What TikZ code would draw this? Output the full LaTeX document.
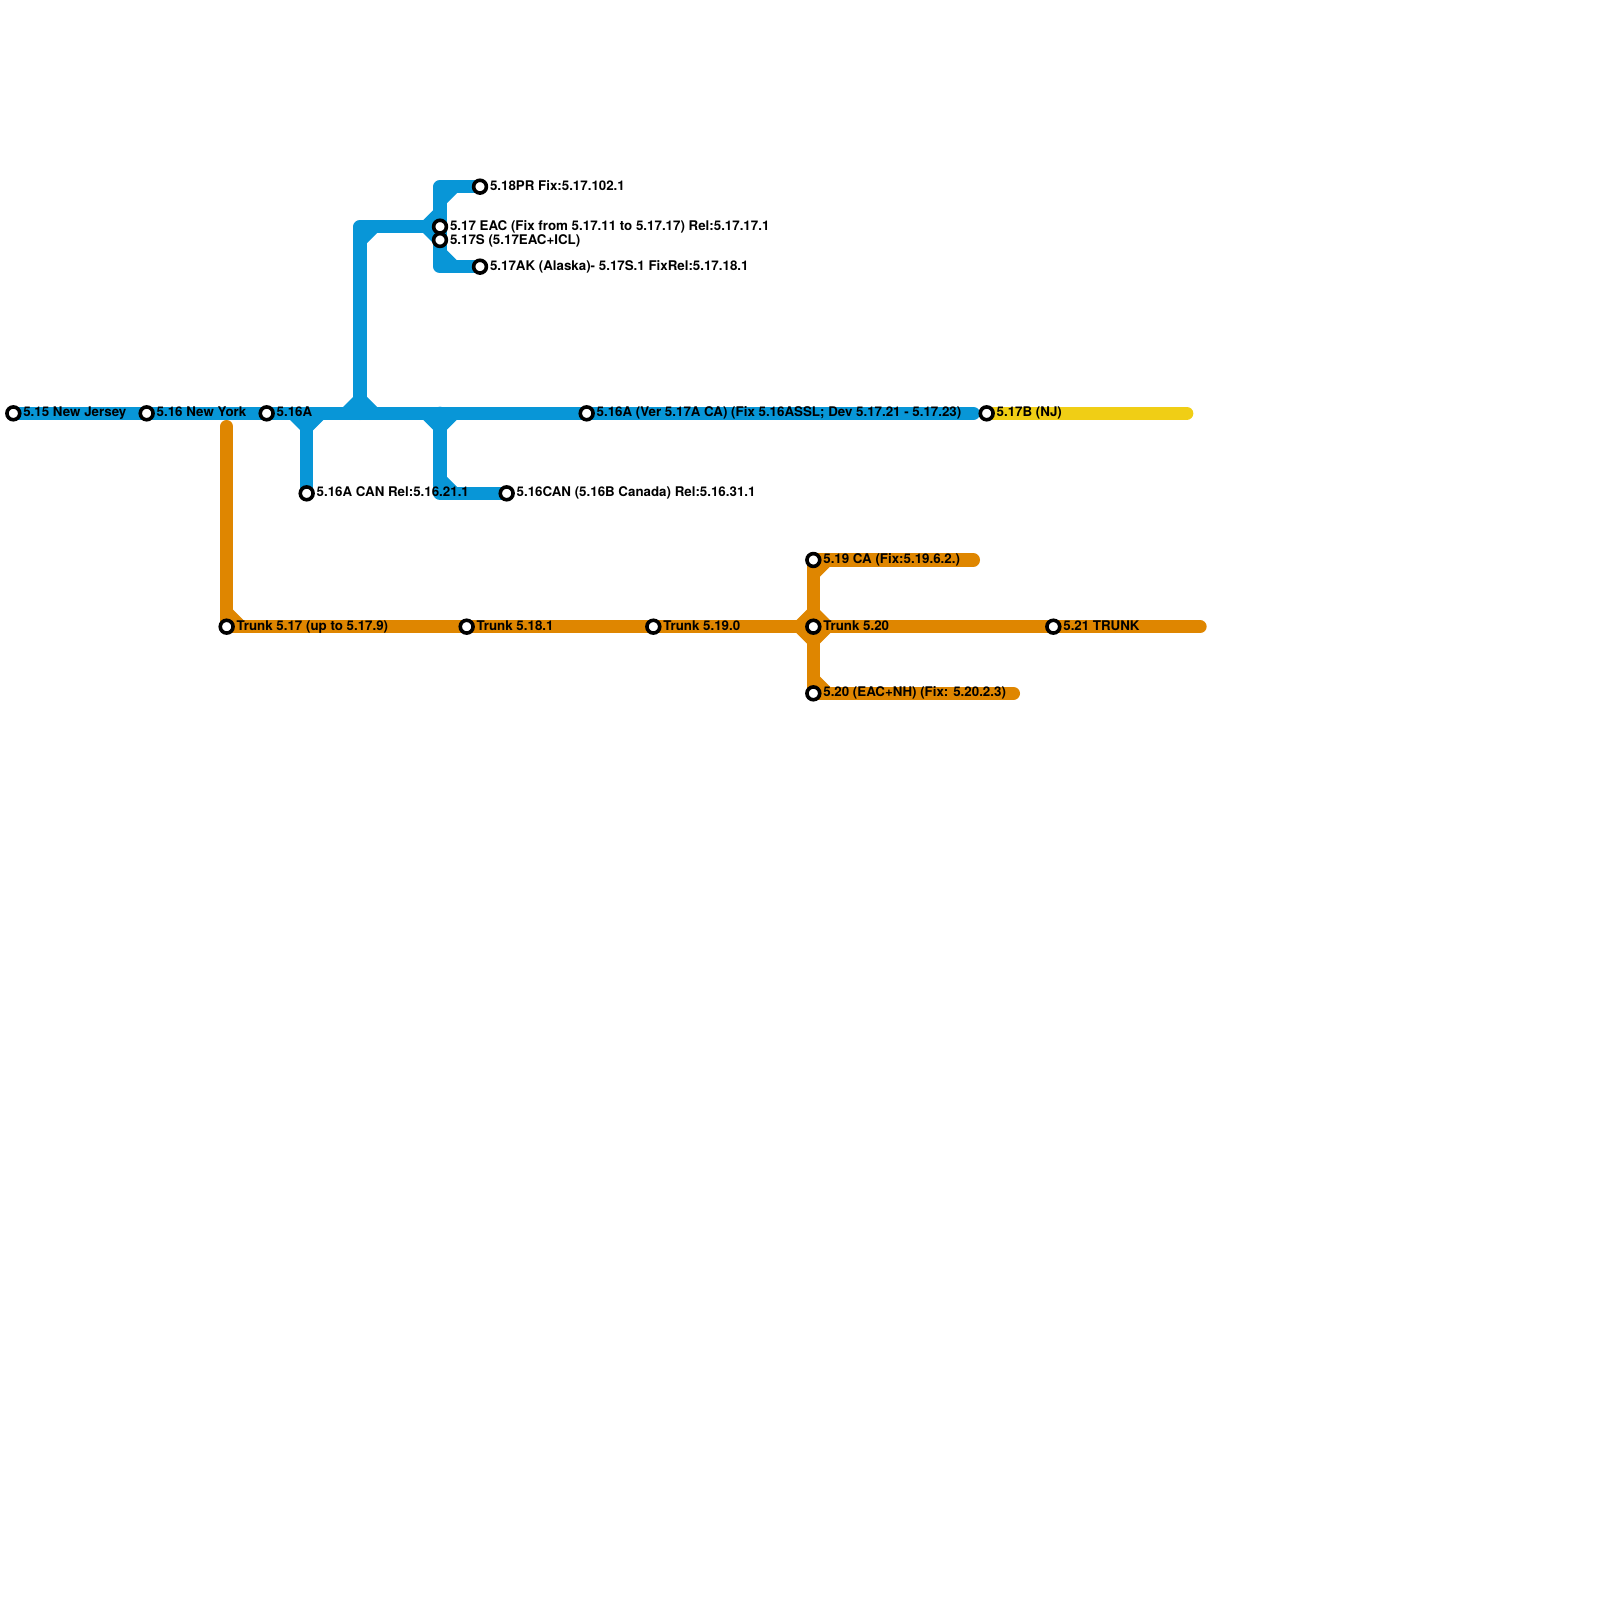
\documentclass[tikz,border=0pt]{standalone}
\usepackage{fontspec}
\setmainfont{TeX Gyre Heros}
\usetikzlibrary{positioning}
\definecolor{mapBlue}{HTML}{0896D7}
\definecolor{mapOrange}{HTML}{DF8600}
\definecolor{mapYellow}{HTML}{F0CE15}
\tikzset{
  trackline/.style={line width=1.333mm, line cap=round, line join=round},
  station/.style={draw=black, fill=white, circle, line width=0.36mm, minimum size=1.28mm, inner sep=0pt, outer sep=0pt},
  stationtag/.style={font=\fontsize{3.79}{4}\selectfont\bfseries, text=black, inner sep=0pt, anchor=base west}
}
\begin{document}
\begin{tikzpicture}[x=0.01cm, y=-0.01cm]
  \useasboundingbox (0,0) rectangle (1600,1600);
  % stations
  \coordinate (jersey) at (13.33,413.33);
  \coordinate (york) at (146.67,413.33);
  \coordinate (sixA) at (266.67,413.33);
  \coordinate (verA) at (586.67,413.33);
  \coordinate (njB) at (986.67,413.33);
  \coordinate (canA) at (306.67,493.33);
  \coordinate (canB) at (506.67,493.33);
  \coordinate (pr) at (480,186.67);
  \coordinate (eac) at (440,226.67);
  \coordinate (eacS) at (440,240);
  \coordinate (ak) at (480,266.67);
  \coordinate (t17) at (226.67,626.67);
  \coordinate (t18) at (466.67,626.67);
  \coordinate (t19) at (653.33,626.67);
  \coordinate (t20) at (813.33,626.67);
  \coordinate (t21) at (1053.33,626.67);
  \coordinate (ca) at (813.33,560);
  \coordinate (nh) at (813.33,693.33);
  % bends and free ends
  \coordinate (canJ) at (306.67,413.33);
  \coordinate (upJ) at (360,413.33);
  \coordinate (upTop) at (360,226.67);
  \coordinate (prTop) at (440,186.67);
  \coordinate (akLow) at (440,266.67);
  \coordinate (downJ) at (440,413.33);
  \coordinate (downLow) at (440,493.33);
  \coordinate (blueEnd) at (973.33,413.33);
  \coordinate (yellowEnd) at (1186.67,413.33);
  \coordinate (orangeTop) at (226.67,426.67);
  \coordinate (orangeEnd) at (1200,626.67);
  \coordinate (caEnd) at (973.33,560);
  \coordinate (nhEnd) at (1013.33,693.33);

  \draw[trackline, mapYellow] (njB) -- (yellowEnd);
  \draw[trackline, mapBlue] (jersey) -- (blueEnd);
  \draw[trackline, mapBlue] (canJ) -- (canA);
  \draw[trackline, mapBlue] (upJ) -- (upTop) -- (eac);
  \draw[trackline, mapBlue] (pr) -- (prTop) -- (akLow) -- (ak);
  \draw[trackline, mapBlue] (downJ) -- (downLow) -- (canB);
  \draw[trackline, mapOrange] (orangeTop) -- (t17) -- (orangeEnd);
  \draw[trackline, mapOrange] (caEnd) -- (ca) -- (nh) -- (nhEnd);

  % little corner pieces
  \foreach \j/\sx/\sy in {canJ/1/1, canJ/-1/1, upJ/1/-1, upJ/-1/-1, downJ/1/1, downJ/-1/1,
      upTop/1/1, eac/-1/-1, eac/-1/1, prTop/1/1, akLow/1/-1, downLow/1/-1}
    \fill[mapBlue] (\j) ++(\sx*4,\sy*4) -- ++(\sx*15.33,0) -- ++(-\sx*15.33,\sy*15.33) -- cycle;
  \foreach \j/\sx/\sy in {t17/1/-1, ca/1/1, nh/1/-1, t20/1/1, t20/1/-1, t20/-1/1, t20/-1/-1}
    \fill[mapOrange] (\j) ++(\sx*4,\sy*4) -- ++(\sx*15.33,0) -- ++(-\sx*15.33,\sy*15.33) -- cycle;

  \node[station] (sJersey) at (jersey) {};
  \node[station] (sYork) at (york) {};
  \node[station] (sSixA) at (sixA) {};
  \node[station] (sVerA) at (verA) {};
  \node[station] (sNjB) at (njB) {};
  \node[station] (sCanA) at (canA) {};
  \node[station] (sCanB) at (canB) {};
  \node[station] (sPr) at (pr) {};
  \node[station] (sEac) at (eac) {};
  \node[station] (sEacS) at (eacS) {};
  \node[station] (sAk) at (ak) {};
  \node[station] (sT17) at (t17) {};
  \node[station] (sT18) at (t18) {};
  \node[station] (sT19) at (t19) {};
  \node[station] (sT20) at (t20) {};
  \node[station] (sT21) at (t21) {};
  \node[station] (sCa) at (ca) {};
  \node[station] (sNh) at (nh) {};

  \node[stationtag] (lJersey) at ([shift={(9.3,3.5)}]jersey) {5.15 New Jersey};
  \node[stationtag] (lYork) at ([shift={(9.3,3.5)}]york) {5.16 New York};
  \node[stationtag] (lSixA) at ([shift={(9.3,3.5)}]sixA) {5.16A};
  \node[stationtag] (lVerA) at ([shift={(9.3,3.5)}]verA) {5.16A (Ver 5.17A CA) (Fix 5.16ASSL; Dev 5.17.21 - 5.17.23)};
  \node[stationtag] (lNjB) at ([shift={(9.3,3.5)}]njB) {5.17B (NJ)};
  \node[stationtag] (lCanA) at ([shift={(9.3,3.5)}]canA) {5.16A CAN Rel:5.16.21.1};
  \node[stationtag] (lCanB) at ([shift={(9.3,3.5)}]canB) {5.16CAN (5.16B Canada) Rel:5.16.31.1};
  \node[stationtag] (lPr) at ([shift={(9.3,3.5)}]pr) {5.18PR Fix:5.17.102.1};
  \node[stationtag] (lEac) at ([shift={(9.3,3.5)}]eac) {5.17 EAC (Fix from 5.17.11 to 5.17.17) Rel:5.17.17.1};
  \node[stationtag] (lEacS) at ([shift={(9.3,4.5)}]eacS) {5.17S (5.17EAC+ICL)};
  \node[stationtag] (lAk) at ([shift={(9.3,3.5)}]ak) {5.17AK (Alaska)- 5.17S.1 FixRel:5.17.18.1};
  \node[stationtag] (lT17) at ([shift={(9.3,3.5)}]t17) {Trunk 5.17 (up to 5.17.9)};
  \node[stationtag] (lT18) at ([shift={(9.3,3.5)}]t18) {Trunk 5.18.1};
  \node[stationtag] (lT19) at ([shift={(9.3,3.5)}]t19) {Trunk 5.19.0};
  \node[stationtag] (lT20) at ([shift={(9.3,3.5)}]t20) {Trunk 5.20};
  \node[stationtag] (lT21) at ([shift={(9.3,3.5)}]t21) {5.21 TRUNK};
  \node[stationtag] (lCa) at ([shift={(9.3,3.5)}]ca) {5.19 CA (Fix:5.19.6.2.)};
  \node[stationtag] (lNh) at ([shift={(9.3,3.5)}]nh) {5.20 (EAC+NH) (Fix: 5.20.2.3)};
\end{tikzpicture}
\end{document}
